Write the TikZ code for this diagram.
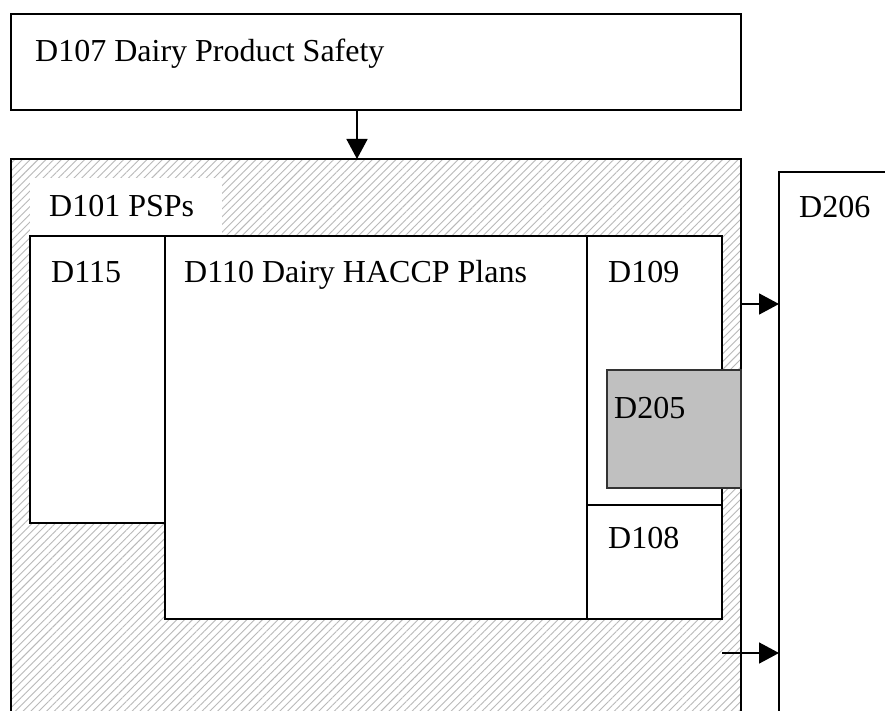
\documentclass[tikz,border=0pt]{standalone}
\usepackage{fontspec}
\setmainfont{Liberation Serif}
\usetikzlibrary{arrows.meta,patterns.meta}
\definecolor{hatchgray}{RGB}{185,185,185}
\definecolor{shade}{RGB}{192,192,192}
\tikzset{
  box/.style={draw=black, line width=1.6pt, fill=white, inner sep=0pt, outer sep=0pt, anchor=north west},
  hatched/.style={draw=black, line width=1.6pt, inner sep=0pt, outer sep=0pt, anchor=north west,
    preaction={fill=white}, pattern={Lines[angle=45,distance=5.5pt,line width=0.9pt]}, pattern color=hatchgray},
  greybox/.style={draw=black!80, line width=1.1pt, fill=shade, inner sep=0pt, outer sep=0pt, anchor=north west},
  tag/.style={anchor=base west, inner sep=0pt, font=\fontsize{32}{38}\selectfont},
  arr/.style={line width=1.6pt, -{Triangle[length=20pt,width=21pt]}}
}
\begin{document}
\begin{tikzpicture}[x=1pt,y=-1pt]
\useasboundingbox (0,0) rectangle (885,711);
\clip (0,0) rectangle (885,711);
% top box
\node[box, minimum width=730pt, minimum height=96pt] (d107) at (11,14) {};
\node[tag] (t107) at (35,62) {D107 Dairy Product Safety};
% hatched container and the box to its right
\node[hatched, minimum width=730pt, minimum height=570pt] (d101) at (11,159) {};
\node[box, minimum width=120pt, minimum height=560pt] (d206) at (779,172) {};
\node[tag] (t206) at (799,218) {D206};
% white label patch
\node[fill=white, inner sep=0pt, outer sep=0pt, anchor=north west, minimum width=192pt, minimum height=58pt] (lab) at (30,178) {};
\node[tag] (t101) at (49,217) {D101 PSPs};
% inner boxes
\node[box, minimum width=135pt, minimum height=287pt] (d115) at (30,236) {};
\node[tag] (t115) at (51,282) {D115};
\node[box, minimum width=422pt, minimum height=383pt] (d110) at (165,236) {};
\node[tag] (t110) at (184,282) {D110 Dairy HACCP Plans};
\node[box, minimum width=135pt, minimum height=269pt] (d109) at (587,236) {};
\node[tag] (t109) at (608,282) {D109};
\node[box, minimum width=135pt, minimum height=114pt] (d108) at (587,505) {};
\node[tag] (t108) at (608,548) {D108};
\node[greybox, minimum width=134pt, minimum height=118pt] (d205) at (607,370) {};
\node[tag] (t205) at (614,418) {D205};
% connectors
\coordinate (a1) at (357,0);
\draw[arr] (a1 |- d107.south) -- (a1 |- d101.north);
\coordinate (a2) at (0,304);
\draw[arr] (a2 -| d101.east) -- (a2 -| d206.west);
\coordinate (a3) at (0,653);
\draw[arr] (a3 -| d108.east) -- (a3 -| d206.west);
\end{tikzpicture}
\end{document}
